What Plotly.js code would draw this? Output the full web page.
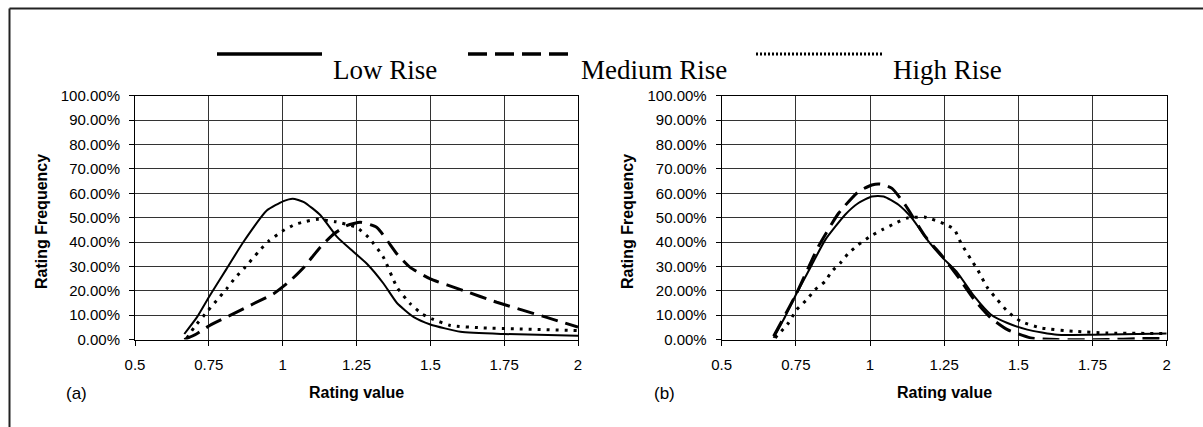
<!DOCTYPE html>
<html>
<head>
<meta charset="utf-8">
<script src="https://cdn.plot.ly/plotly-3.0.1.min.js"></script>
<style>html,body{margin:0;padding:0;background:#fff;}#chart{width:1203px;height:427px;}</style>
</head>
<body>
<div id="chart"></div>
<script>
// ---- Data (Rating value vs Rating Frequency %) ----
const seriesNames = ["Low Rise", "Medium Rise", "High Rise"];

// Panel (a)
const aLowX  = [0.667,0.71,0.753,0.81,0.867,0.947,1.003,1.034,1.072,1.128,1.185,1.23,1.286,1.342,1.387,1.444,1.5,1.602,1.749,2.0];
const aLowY  = [2.3,9.2,18,29,40,53,56.8,57.8,56.4,51,42,37,31,22.9,15,9.2,6.2,3.2,2.3,1.6];
const aMedX  = [0.667,0.708,0.753,0.822,0.901,0.969,1.026,1.072,1.128,1.174,1.219,1.263,1.319,1.387,1.432,1.5,1.612,1.725,1.894,2.0];
const aMedY  = [0,2.3,5.8,9.9,14.7,18.8,24.2,29.7,38,43.4,46.8,48.1,46,35.1,29.6,24.9,20.1,15.3,9.1,5.1];
const aHighX = [0.675,0.70,0.748,0.776,0.81,0.839,0.873,0.918,0.952,0.998,1.043,1.08,1.117,1.18,1.25,1.29,1.34,1.387,1.432,1.472,1.506,1.568,1.68,1.793,2.0];
const aHighY = [0.5,5,12,16,20.8,25.3,29.7,36,40.3,44.4,47.3,48.5,49.3,48.3,46,42,34,21.5,14.7,10.5,8.5,5.8,4.8,4.4,3.7];

// Panel (b)
const bLowX  = [0.675,0.714,0.75,0.804,0.849,0.916,0.961,1.006,1.046,1.096,1.141,1.197,1.245,1.295,1.351,1.407,1.463,1.53,1.631,1.754,2.0];
const bLowY  = [0.7,9.5,18.4,30.7,40.9,51.2,56,58.7,58.7,55.3,49.8,40.3,33.5,27.4,17.8,10.3,6.8,4.1,2,2,2.5];
const bMedX  = [0.675,0.75,0.826,0.894,0.961,1.006,1.034,1.074,1.118,1.186,1.245,1.295,1.351,1.407,1.463,1.541,1.63,1.8,1.91,2.0];
const bMedY  = [1.4,18.4,38.2,51.8,60.7,63.4,63.8,62,55.3,42.3,34,26,16.4,8.9,4.1,0.7,0,0,0.4,0.4];
const bHighX = [0.68,0.725,0.753,0.787,0.815,0.849,0.871,0.9,0.928,0.961,1.0,1.04,1.085,1.124,1.186,1.25,1.284,1.306,1.34,1.362,1.396,1.429,1.463,1.508,1.575,1.687,1.8,2.0];
const bHighY = [0.7,6.8,12.3,16.4,20.5,23.9,28,31.4,35.5,38.9,42.3,45,47.7,49.8,50.2,47.5,45.2,39.7,32.9,28.8,21.2,16.4,11.6,7.5,4.8,3.4,2.7,2.5];

// Axis ticks
const xTickVals = [0.5,0.75,1,1.25,1.5,1.75,2];
const xTickText = ["0.5","0.75","1","1.25","1.5","1.75","2"];
const yTickVals = [0,10,20,30,40,50,60,70,80,90,100];
const yTickText = ["0.00%","10.00%","20.00%","30.00%","40.00%","50.00%","60.00%","70.00%","80.00%","90.00%","100.00%"];
const xTitle = "Rating value";
const yTitle = "Rating Frequency";
const panelLabels = ["(a)", "(b)"];

// ---- Layout helpers ----
const W = 1203, H = 427;
const px = v => v / W;
const py = v => 1 - v / H;
const SANS = "Liberation Sans, Arial, sans-serif";
const SERIF = "Liberation Serif, Times New Roman, serif";

const styles = [
  {color:"#000", width:2, dash:"solid"},
  {color:"#000", width:3, dash:"17px,8px"},
  {color:"#000", width:3, dash:"3px,6px"}
];

function mk(x, y, i, xa, ya) {
  return {x:x, y:y, type:"scatter", mode:"lines", name:seriesNames[i], showlegend:false,
    xaxis:xa, yaxis:ya, line:Object.assign({shape:"spline", smoothing:0.5}, styles[i]), hoverinfo:"x+y"};
}

const data = [
  mk(aLowX, aLowY, 0, "x", "y"),
  mk(aMedX, aMedY, 1, "x", "y"),
  mk(aHighX, aHighY, 2, "x", "y"),
  mk(bLowX, bLowY, 0, "x2", "y2"),
  mk(bMedX, bMedY, 1, "x2", "y2"),
  mk(bHighX, bHighY, 2, "x2", "y2")
];

const yDom = [py(339.6), py(95.7)];
function xAxis(dom, anchor) {
  return {domain:dom, anchor:anchor, range:[0.5,2], tickvals:xTickVals, ticktext:xTickText,
    showgrid:true, gridcolor:"#333", gridwidth:1, zeroline:false,
    showline:true, linecolor:"#000", linewidth:1, mirror:true,
    ticks:"outside", ticklen:5, tickcolor:"#000", ticklabelstandoff:6,
    tickfont:{family:SANS, size:15, color:"#000"}, fixedrange:true};
}
function yAxis(anchor) {
  return {domain:yDom, anchor:anchor, range:[0,100], tickvals:yTickVals, ticktext:yTickText,
    showgrid:true, gridcolor:"#333", gridwidth:1, zeroline:false,
    showline:true, linecolor:"#000", linewidth:1, mirror:true,
    ticks:"outside", ticklen:5, tickcolor:"#000", ticklabelstandoff:6,
    tickfont:{family:SANS, size:15, color:"#000"}, fixedrange:true};
}

const ann = [];
function txt(x, y, t, size, bold, family, xanchor, angle) {
  ann.push({xref:"paper", yref:"paper", x:px(x), y:py(y), text:bold ? "<b>"+t+"</b>" : t,
    showarrow:false, xanchor:xanchor||"center", yanchor:"middle", textangle:angle||0,
    font:{family:family||SANS, size:size, color:"#000"}});
}
// axis titles and panel labels
txt(356.5, 392, xTitle, 16, true);
txt(944, 392, xTitle, 16, true);
txt(41, 222, yTitle, 16, true, SANS, "center", -90);
txt(627, 222, yTitle, 16, true, SANS, "center", -90);
txt(76, 393, panelLabels[0], 17, false);
txt(664, 393, panelLabels[1], 17, false);
// legend text
txt(331, 70, seriesNames[0], 27, false, SERIF, "left");
txt(579, 70, seriesNames[1], 27, false, SERIF, "left");
txt(891, 70, seriesNames[2], 27, false, SERIF, "left");

const shapes = [
  // outer frame (top and left edges)
  {type:"line", xref:"paper", yref:"paper", x0:px(9.5), x1:px(1210), y0:py(8.5), y1:py(8.5), line:{color:"#222", width:2}},
  {type:"line", xref:"paper", yref:"paper", x0:px(9.5), x1:px(9.5), y0:py(8.5), y1:py(440), line:{color:"#222", width:2}},
  // legend samples
  {type:"line", xref:"paper", yref:"paper", x0:px(217), x1:px(322), y0:py(54), y1:py(54), line:{color:"#000", width:3.5}},
  {type:"line", xref:"paper", yref:"paper", x0:px(468), x1:px(568), y0:py(54), y1:py(54), line:{color:"#000", width:3.5, dash:"19px,8px"}},
  {type:"line", xref:"paper", yref:"paper", x0:px(756), x1:px(883), y0:py(54), y1:py(54), line:{color:"#000", width:3, dash:"2px,2px"}}
];

const layout = {
  width:W, height:H, margin:{l:0, r:0, t:0, b:0},
  paper_bgcolor:"#fff", plot_bgcolor:"#fff", showlegend:false,
  xaxis: xAxis([px(135), px(578)], "y"),
  yaxis: yAxis("x"),
  xaxis2: xAxis([px(721.7), px(1166.7)], "y2"),
  yaxis2: yAxis("x2"),
  annotations: ann,
  shapes: shapes
};

Plotly.newPlot("chart", data, layout, {displayModeBar:false, staticPlot:true});
</script>
</body>
</html>
